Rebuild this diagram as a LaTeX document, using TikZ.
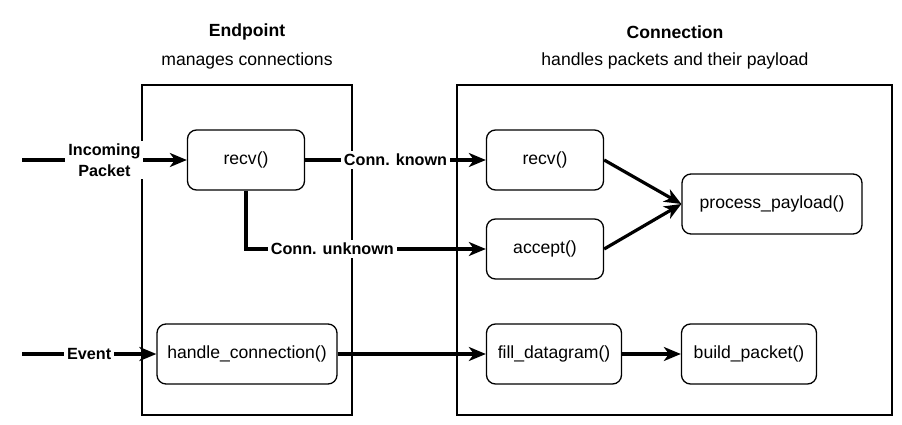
\documentclass[tikz,border=0pt]{standalone}
\usepackage{fontspec}
\setmainfont{Liberation Sans}
\usetikzlibrary{arrows.meta}
\begin{document}
\begin{tikzpicture}[x=1pt, y=-1pt,
		func/.style={draw, rounded corners=9pt, line width=1.3pt, minimum height=60pt, inner sep=0pt, font=\fontsize{17.6}{21}\selectfont},
		frame/.style={draw, line width=1.3pt},
		conn/.style={-{Stealth[length=17pt, width=14pt, inset=5pt]}, line width=3.2pt},
		lbl/.style={fill=white, inner sep=3pt, align=center, font=\bfseries\fontsize{16.2}{21}\selectfont},
		title/.style={font=\fontsize{17.6}{21}\selectfont}]
	\useasboundingbox (0,0) rectangle (902,425);
	% the two components
	\draw[frame] (142,85) rectangle (352,415);
	\draw[frame] (457,85) rectangle (892,415);
	\node[title, font=\bfseries\fontsize{17.6}{21}\selectfont] (t1) at (247,32) {Endpoint};
	\node[title] (s1) at (247,61) {manages connections};
	\node[title, font=\bfseries\fontsize{17.6}{21}\selectfont] (t2) at (675,32) {Connection};
	\node[title] (s2) at (675,61) {handles packets and their payload};
	% functions
	\node[func, minimum width=117pt] (1) at (246,160) {recv()};
	\node[func, minimum width=180pt] (2) at (247,354) {handle\_connection()};
	\node[func, minimum width=117pt] (3) at (545,160) {recv()};
	\node[func, minimum width=117pt] (4) at (545,249) {accept()};
	\node[func, minimum width=180pt] (5) at (772,204) {process\_payload()};
	\node[func, minimum width=135pt] (6) at (554,354) {fill\_datagram()};
	\node[func, minimum width=135pt] (7) at (749,354) {build\_packet()};
	\coordinate (in) at (22,160);
	\coordinate (ev) at (22,354);
	% flows
	\draw[conn] (in) -- node[lbl] {Incoming\\Packet} (1);
	\draw[conn] (ev) -- node[lbl] {Event} (2);
	\draw[conn] (1) -- node[lbl] {Conn. known} (3);
	\draw[conn] (1.south) |- node[lbl, pos=0.68] {Conn. unknown} (4);
	\draw[conn] (3.east) -- (5.west);
	\draw[conn] (4.east) -- (5.west);
	\draw[conn] (2) -- (6);
	\draw[conn] (6) -- (7);
\end{tikzpicture}
\end{document}
